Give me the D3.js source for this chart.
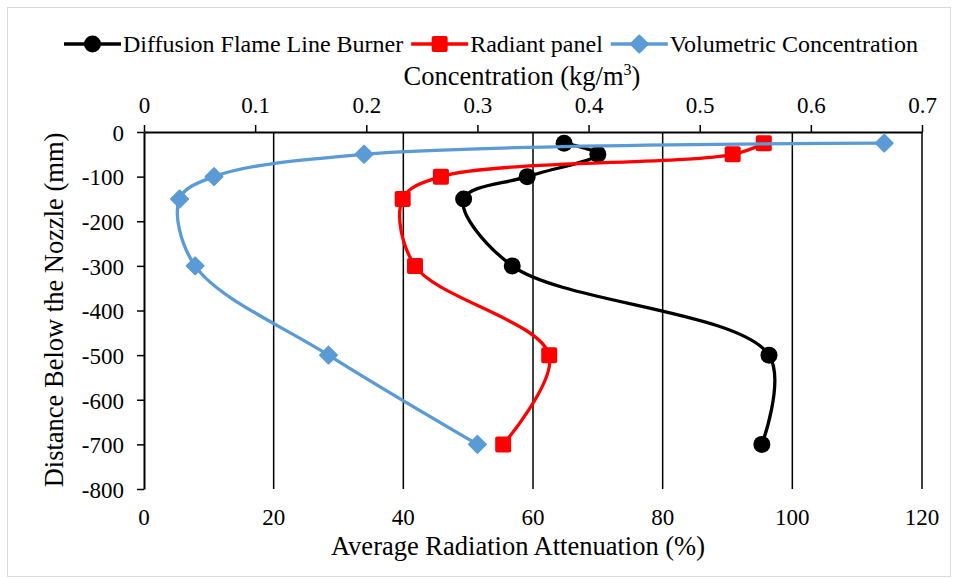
<!DOCTYPE html>
<html>
<head>
<meta charset="utf-8">
<script src="https://cdn.jsdelivr.net/npm/d3@7"></script>
<style>
  body { margin: 0; background: white; }
</style>
</head>
<body>
<div id="chart"></div>
<script>
// distance below nozzle (mm)
let distance = [-25, -50, -100, -150, -300, -500, -700]
// average radiation attenuation (%)
let burner = [64.8, 70.0, 59.1, 49.3, 56.8, 96.4, 95.3]
let panel = [95.6, 90.8, 45.8, 39.9, 41.8, 62.5, 55.4]
// volumetric concentration (kg/m3), top axis
let concentration = [0.666, 0.198, 0.063, 0.032, 0.046, 0.166, 0.300]

let bottomTicks = [0, 20, 40, 60, 80, 100, 120]
let topTicks = [0, 0.1, 0.2, 0.3, 0.4, 0.5, 0.6, 0.7]
let yTicks = [0, -100, -200, -300, -400, -500, -600, -700, -800]

let FONT = "'Liberation Serif', 'Times New Roman', serif"
let width = 958
let height = 579

let svg = d3
  .select('#chart')
  .append('svg')
  .attr('width', width)
  .attr('height', height)

// chart border
svg
  .append('rect')
  .attr('x', 7.5)
  .attr('y', 7.5)
  .attr('width', 943)
  .attr('height', 569)
  .attr('fill', 'white')
  .attr('stroke', '#d9d9d9')
  .attr('stroke-width', 1)

let x = d3.scaleLinear().domain([0, 120]).range([144, 922])
let xTop = d3.scaleLinear().domain([0, 0.7]).range([144, 922])
let y = d3.scaleLinear().domain([-800, 0]).range([489, 132])

// vertical gridlines
svg
  .selectAll('.grid')
  .data(bottomTicks.slice(1))
  .enter()
  .append('line')
  .attr('class', 'grid')
  .attr('x1', d => x(d))
  .attr('x2', d => x(d))
  .attr('y1', y(0))
  .attr('y2', y(-800))
  .attr('stroke', 'black')
  .attr('stroke-width', 1.5)

// bottom axis labels (no line)
svg
  .selectAll('.xlabel')
  .data(bottomTicks)
  .enter()
  .append('text')
  .attr('x', d => x(d))
  .attr('y', 525)
  .attr('text-anchor', 'middle')
  .attr('font-size', 23)
  .text(d => d)

// top axis
let topAxis = svg
  .append('g')
  .attr('transform', `translate(0,${y(0)})`)
  .call(d3.axisTop(xTop).tickValues(topTicks).tickSize(7).tickSizeOuter(0).tickFormat(d3.format('')))
topAxis.select('.domain').attr('stroke', 'black').attr('stroke-width', 2)
topAxis.selectAll('.tick line').attr('stroke', 'black').attr('stroke-width', 1.5)
topAxis
  .selectAll('.tick text')
  .attr('font-size', 23)
  .attr('dy', null)
  .attr('y', -19)

// left axis
let leftAxis = svg
  .append('g')
  .attr('transform', `translate(${x(0)},0)`)
  .call(d3.axisLeft(y).tickValues(yTicks).tickSize(7).tickSizeOuter(0))
leftAxis.select('.domain').attr('stroke', 'black').attr('stroke-width', 2)
leftAxis.selectAll('.tick line').attr('stroke', 'black').attr('stroke-width', 1.5)
leftAxis
  .selectAll('.tick text')
  .attr('font-size', 23)
  .attr('x', -20)
  .attr('dy', '0.36em')
  .text(d => d)

// axis titles
svg
  .append('text')
  .attr('x', 518)
  .attr('y', 555)
  .attr('text-anchor', 'middle')
  .attr('font-size', 26.5)
  .text('Average Radiation Attenuation (%)')

let topTitle = svg
  .append('text')
  .attr('x', 522)
  .attr('y', 85)
  .attr('text-anchor', 'middle')
  .attr('font-size', 26.5)
topTitle.append('tspan').text('Concentration (kg/m')
topTitle.append('tspan').attr('font-size', 16).attr('dy', -10).text('3')
topTitle.append('tspan').attr('dy', 10).text(')')

svg
  .append('text')
  .attr('transform', 'translate(63,310) rotate(-90)')
  .attr('text-anchor', 'middle')
  .attr('font-size', 26.5)
  .text('Distance Below the Nozzle (mm)')

let curve = d3.curveCatmullRom.alpha(0.5)

let series = [
  { name: 'Diffusion Flame Line Burner', values: burner, scale: x, color: 'black', marker: 'circle' },
  { name: 'Radiant panel', values: panel, scale: x, color: '#ff0000', marker: 'square' },
  { name: 'Volumetric Concentration', values: concentration, scale: xTop, color: '#5b9bd5', marker: 'diamond' }
]

function drawMarker(g, type, color) {
  if (type === 'circle') {
    g.append('circle').attr('r', 8.5).attr('fill', color)
  } else if (type === 'square') {
    g.append('rect')
      .attr('x', -8).attr('y', -8)
      .attr('width', 16).attr('height', 16)
      .attr('rx', 2)
      .attr('fill', color)
  } else {
    g.append('path')
      .attr('d', 'M0,-8.5L8.5,0L0,8.5L-8.5,0Z')
      .attr('stroke-linejoin', 'round')
      .attr('stroke', color)
      .attr('stroke-width', 2)
      .attr('fill', color)
  }
}

series.forEach(s => {
  let pts = s.values.map((v, i) => [s.scale(v), y(distance[i])])
  let line = d3.line().curve(curve)
  svg
    .append('path')
    .attr('d', line(pts))
    .attr('fill', 'none')
    .attr('stroke', s.color)
    .attr('stroke-width', 3.3)
    .attr('stroke-linecap', 'round')

  pts.forEach(p => {
    let g = svg.append('g').attr('transform', `translate(${p})`)
    drawMarker(g, s.marker, s.color)
  })
})

// legend
let legend = svg.append('g').attr('transform', 'translate(0,44)')
let lx = 64
series.forEach(s => {
  legend
    .append('line')
    .attr('x1', lx)
    .attr('x2', lx + 57)
    .attr('stroke', s.color)
    .attr('stroke-width', 3.3)
  let g = legend.append('g').attr('transform', `translate(${lx + 28.5},0)`)
  drawMarker(g, s.marker, s.color)
  let t = legend
    .append('text')
    .attr('x', lx + 59)
    .attr('y', 8)
    .attr('font-size', 24)
    .style('font-family', FONT)
    .text(s.name)
  lx = lx + 59 + t.node().getComputedTextLength() + 8
})

svg.selectAll('text').style('font-family', FONT).attr('fill', 'black')
</script>
</body>
</html>
